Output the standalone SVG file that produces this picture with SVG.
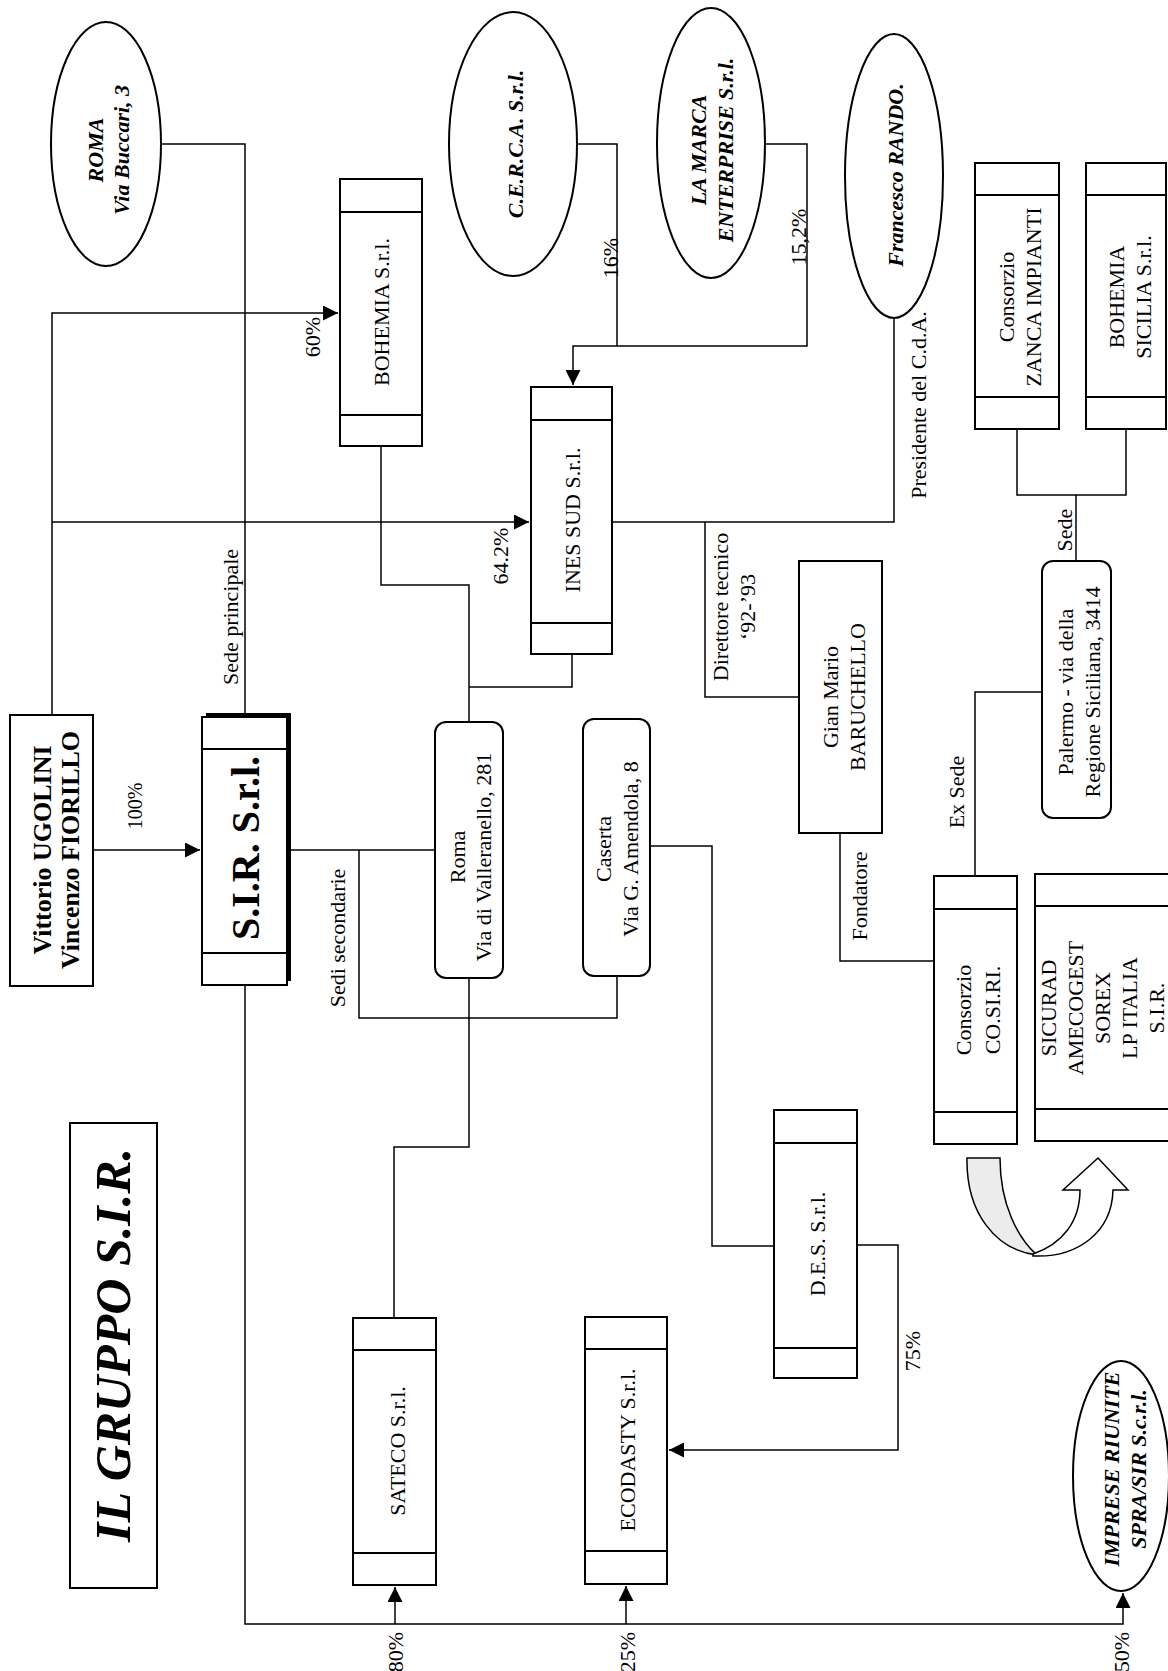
<svg xmlns="http://www.w3.org/2000/svg" width="1168" height="1671" viewBox="0 0 1168 1671">
<style>
.bx{fill:#fff;stroke:#000;stroke-width:2}
.bd{fill:none;stroke:#000;stroke-width:2}
.ln{fill:none;stroke:#000;stroke-width:1.5}
.t{font-family:"Liberation Serif","Times New Roman",serif;font-size:22px;text-anchor:middle;dominant-baseline:central;fill:#000}
.bi{font-weight:bold;font-style:italic}
.b{font-weight:bold}
</style>
<defs>
<marker id="ah" viewBox="0 0 10 10" refX="10" refY="5" markerWidth="17" markerHeight="15" markerUnits="userSpaceOnUse" orient="auto"><path d="M0,0 L10,5 L0,10 z" fill="#000"/></marker>
</defs>
<rect width="1168" height="1671" fill="#fff"/>

<g id="connectors">
<path class="ln" d="M161,144 H245 V717"/>
<path class="ln" d="M52,715 V313 H338" marker-end="url(#ah)"/>
<path class="ln" d="M52,522 H529" marker-end="url(#ah)"/>
<path class="ln" d="M93,850 H200" marker-end="url(#ah)"/>
<path class="ln" d="M290,850 H435"/>
<path class="ln" d="M359,850 V1018 H617 V976"/>
<path class="ln" d="M381,446 V585 H469 V722"/>
<path class="ln" d="M572,654 V687 H469"/>
<path class="ln" d="M469,978 V1147 H394 V1318"/>
<path class="ln" d="M650,846 H712 V1246 H774"/>
<path class="ln" d="M857,1245 H898 V1450 H669" marker-end="url(#ah)"/>
<path class="ln" d="M245,985 V1624 H1123 V1593" marker-end="url(#ah)"/>
<path class="ln" d="M395,1624 V1587" marker-end="url(#ah)"/>
<path class="ln" d="M626,1624 V1586" marker-end="url(#ah)"/>
<path class="ln" d="M577,144 H617 V346"/>
<path class="ln" d="M765,144 H807 V346 H573 V385" marker-end="url(#ah)"/>
<path class="ln" d="M894,318 V522 H612"/>
<path class="ln" d="M705,522 V697 H799"/>
<path class="ln" d="M840,833 V961 H934"/>
<path class="ln" d="M975,876 V692 H1042"/>
<path class="ln" d="M1076,561 V495"/>
<path class="ln" d="M1017,429 V495 H1126 V429"/>
</g>

<g id="labels">
<text class="t" transform="translate(312,337) rotate(-90)">60%</text>
<text class="t" transform="translate(135,806) rotate(-90)" style="font-size:20px">100%</text>
<text class="t" transform="translate(230,617) rotate(-90)">Sede principale</text>
<text class="t" transform="translate(337,938) rotate(-90)">Sedi secondarie</text>
<text class="t" transform="translate(500,556) rotate(-90)">64.2%</text>
<text class="t" transform="translate(610,258) rotate(-90)">16%</text>
<text class="t" transform="translate(798,237) rotate(-90)">15,2%</text>
<text class="t" transform="translate(918,405) rotate(-90)">Presidente del C.d.A.</text>
<text class="t" transform="translate(720,607) rotate(-90)">Direttore tecnico</text>
<text class="t" transform="translate(747,607) rotate(-90)">‘92-’93</text>
<text class="t" transform="translate(859,896) rotate(-90)">Fondatore</text>
<text class="t" transform="translate(956,792) rotate(-90)">Ex Sede</text>
<text class="t" transform="translate(1064,530) rotate(-90)">Sede</text>
<text class="t" transform="translate(912,1351) rotate(-90)">75%</text>
<text class="t" transform="translate(395,1652) rotate(-90)">80%</text>
<text class="t" transform="translate(627,1652) rotate(-90)">25%</text>
<text class="t" transform="translate(1121,1652) rotate(-90)">50%</text>
</g>

<g id="title">
<rect class="bx" x="70" y="1123" width="87" height="465"/>
<text class="t bi" transform="translate(113,1345) rotate(-90)" style="font-size:50px">IL GRUPPO S.I.R.</text>
</g>

<g id="roma-buccari">
<ellipse class="bx" cx="106" cy="144" rx="55" ry="122"/>
<text class="t bi" transform="translate(95,150) rotate(-90)">ROMA</text>
<text class="t bi" transform="translate(121,150) rotate(-90)">Via Buccari, 3</text>
</g>

<g id="cerca">
<ellipse class="bx" cx="513" cy="144" rx="64" ry="132"/>
<text class="t bi" transform="translate(515,144) rotate(-90)">C.E.R.C.A. S.r.l.</text>
</g>

<g id="la-marca">
<ellipse class="bx" cx="711" cy="143" rx="54" ry="135"/>
<text class="t bi" transform="translate(698,150) rotate(-90)">LA MARCA</text>
<text class="t bi" transform="translate(725,150) rotate(-90)">ENTERPRISE S.r.l.</text>
</g>

<g id="rando">
<ellipse class="bx" cx="894" cy="176" rx="49" ry="142"/>
<text class="t bi" transform="translate(895,175) rotate(-90)">Francesco RANDO.</text>
</g>

<g id="imprese">
<ellipse class="bx" cx="1121" cy="1476" rx="48" ry="115"/>
<text class="t bi" transform="translate(1111,1469) rotate(-90)">IMPRESE RIUNITE</text>
<text class="t bi" transform="translate(1138,1469) rotate(-90)">SPRA/SIR S.c.r.l.</text>
</g>

<g id="vittorio">
<rect class="bx" x="10" y="715" width="83" height="271"/>
<text class="t b" transform="translate(42,850) rotate(-90)" style="font-size:26px">Vittorio UGOLINI</text>
<text class="t b" transform="translate(70,850) rotate(-90)" style="font-size:26px">Vincenzo FIORILLO</text>
</g>

<g id="sir">
<rect x="206" y="713" width="85" height="268" fill="#000"/>
<rect class="bx" x="202" y="717" width="85" height="268"/>
<path class="bd" d="M202,749 H287 M202,953 H287"/>
<text class="t b" transform="translate(245,848) rotate(-90)" style="font-size:40px">S.I.R. S.r.l.</text>
</g>

<g id="bohemia">
<rect class="bx" x="340" y="179" width="82" height="267"/>
<path class="bd" d="M340,212 H422 M340,415 H422"/>
<text class="t" transform="translate(381,312) rotate(-90)">BOHEMIA S.r.l.</text>
</g>

<g id="ines-sud">
<rect class="bx" x="531" y="387" width="81" height="267"/>
<path class="bd" d="M531,420 H612 M531,623 H612"/>
<text class="t" transform="translate(572,520) rotate(-90)">INES SUD S.r.l.</text>
</g>

<g id="zanca">
<rect class="bx" x="975" y="163" width="84" height="266"/>
<path class="bd" d="M975,195 H1059 M975,397 H1059"/>
<text class="t" transform="translate(1006,297) rotate(-90)">Consorzio</text>
<text class="t" transform="translate(1033,297) rotate(-90)">ZANCA IMPIANTI</text>
</g>

<g id="bohemia-sicilia">
<rect class="bx" x="1086" y="163" width="80" height="266"/>
<path class="bd" d="M1086,195 H1166 M1086,397 H1166"/>
<text class="t" transform="translate(1116,297) rotate(-90)">BOHEMIA</text>
<text class="t" transform="translate(1143,297) rotate(-90)">SICILIA S.r.l.</text>
</g>

<g id="roma-valleranello">
<rect class="bx" x="435" y="722" width="68" height="256" rx="11"/>
<text class="t" transform="translate(457,857) rotate(-90)">Roma</text>
<text class="t" transform="translate(483,857) rotate(-90)">Via di Valleranello, 281</text>
</g>

<g id="caserta">
<rect class="bx" x="583" y="719" width="67" height="257" rx="11"/>
<text class="t" transform="translate(603,849) rotate(-90)">Caserta</text>
<text class="t" transform="translate(630,849) rotate(-90)">Via G. Amendola, 8</text>
</g>

<g id="baruchello">
<rect class="bx" x="799" y="561" width="83" height="272"/>
<text class="t" transform="translate(830,697) rotate(-90)">Gian Mario</text>
<text class="t" transform="translate(857,697) rotate(-90)">BARUCHELLO</text>
</g>

<g id="palermo">
<rect class="bx" x="1042" y="561" width="69" height="257" rx="11"/>
<text class="t" transform="translate(1065,692) rotate(-90)">Palermo - via della</text>
<text class="t" transform="translate(1092,692) rotate(-90)">Regione Siciliana, 3414</text>
</g>

<g id="cosiri">
<rect class="bx" x="934" y="876" width="83" height="268"/>
<path class="bd" d="M934,909 H1017 M934,1112 H1017"/>
<text class="t" transform="translate(963,1010) rotate(-90)">Consorzio</text>
<text class="t" transform="translate(992,1010) rotate(-90)">CO.SI.RI.</text>
</g>

<g id="sicurad">
<rect class="bx" x="1035" y="874" width="150" height="267"/>
<path class="bd" d="M1035,906 H1185 M1035,1109 H1185"/>
<text class="t" transform="translate(1048,1008) rotate(-90)">SICURAD</text>
<text class="t" transform="translate(1075,1008) rotate(-90)">AMECOGEST</text>
<text class="t" transform="translate(1102,1008) rotate(-90)">SOREX</text>
<text class="t" transform="translate(1129,1008) rotate(-90)">LP ITALIA</text>
<text class="t" transform="translate(1156,1008) rotate(-90)">S.I.R.</text>
</g>

<g id="des">
<rect class="bx" x="774" y="1110" width="83" height="268"/>
<path class="bd" d="M774,1143 H857 M774,1348 H857"/>
<text class="t" transform="translate(817,1244) rotate(-90)">D.E.S. S.r.l.</text>
</g>

<g id="sateco">
<rect class="bx" x="353" y="1318" width="83" height="267"/>
<path class="bd" d="M353,1350 H436 M353,1553 H436"/>
<text class="t" transform="translate(397,1451) rotate(-90)">SATECO S.r.l.</text>
</g>

<g id="ecodasty">
<rect class="bx" x="585" y="1317" width="82" height="267"/>
<path class="bd" d="M585,1349 H667 M585,1551 H667"/>
<text class="t" transform="translate(627,1450) rotate(-90)">ECODASTY S.r.l.</text>
</g>

<g id="u-turn-arrow">
<path d="M967,1158 C966,1212 995,1250 1037,1255 C1018,1238 1000,1205 1000,1158 Z" fill="#ececec" stroke="#000" stroke-width="1.5"/>
<path d="M1033,1254 C1062,1244 1080,1222 1080,1190 L1063,1190 L1098,1158 L1128,1190 L1113,1190 C1112,1232 1078,1258 1033,1256 Z" fill="#fff" stroke="#000" stroke-width="1.5"/>
</g>
</svg>
